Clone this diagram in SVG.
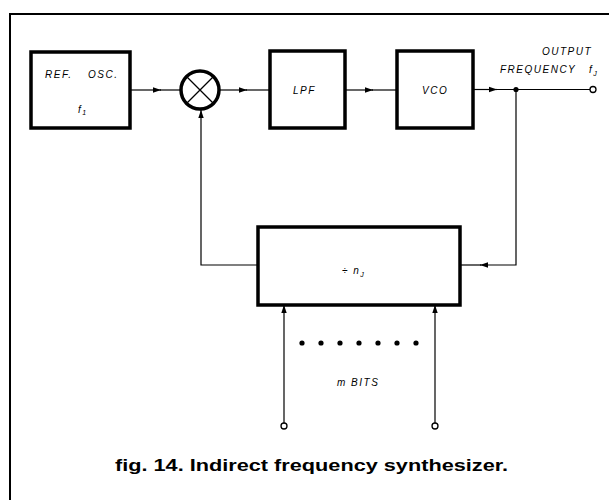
<svg xmlns="http://www.w3.org/2000/svg" width="609" height="500" viewBox="0 0 609 500">
<style>
.box{fill:#fff;stroke:#000;stroke-width:3.5}
.ln{fill:none;stroke:#000;stroke-width:1.2}
.lbl{font-family:"Liberation Sans",Arial,sans-serif;font-style:italic;font-size:10px;letter-spacing:1.5px;fill:#000}
.cap{font-family:"Liberation Sans",Arial,sans-serif;font-weight:bold;font-size:17px;fill:#000}
.term{fill:#fff;stroke:#000;stroke-width:1.3}
</style>
<defs>
<marker id="ah" markerWidth="9" markerHeight="7" refX="8" refY="3.5" orient="auto" markerUnits="userSpaceOnUse">
<path d="M0,0.8 L8,3.5 L0,6.2 Z" fill="#000"/>
</marker>
</defs>
<g id="frame">
<path d="M10 500 L10 14 L609 14" fill="none" stroke="#000" stroke-width="2"/>
</g>
<g id="refosc">
<rect class="box" x="31" y="52" width="99" height="76"/>
<text class="lbl" x="45" y="78">REF.</text>
<text class="lbl" x="88" y="78">OSC.</text>
<text class="lbl" x="78" y="113">f<tspan font-size="7" dy="2">1</tspan></text>
</g>
<g id="mixer">
<circle cx="200" cy="90" r="19" fill="#fff" stroke="#000" stroke-width="3.5"/>
<path d="M186.5 76.5 L213.5 103.5 M213.5 76.5 L186.5 103.5" stroke="#000" stroke-width="1.3"/>
</g>
<g id="lpf">
<rect class="box" x="270" y="51" width="75" height="77"/>
<text class="lbl" x="293" y="94">LPF</text>
</g>
<g id="vco">
<rect class="box" x="397" y="51" width="76" height="77"/>
<text class="lbl" x="422" y="94">VCO</text>
</g>
<g id="divider">
<rect class="box" x="258" y="227" width="202" height="78"/>
<text class="lbl" x="342" y="274" font-size="11" letter-spacing="0">÷ n<tspan font-size="7" dy="3">J</tspan></text>
</g>
<g id="output">
<circle class="term" cx="593" cy="89.5" r="3"/>
<text class="lbl" x="542" y="55">OUTPUT</text>
<text class="lbl" x="500" y="73">FREQUENCY</text>
<text class="lbl" x="589" y="73">f<tspan font-size="7" dy="3">J</tspan></text>
</g>
<g id="bits">
<circle class="term" cx="284" cy="426" r="3"/>
<circle class="term" cx="435" cy="426" r="3"/>
<g fill="#000">
<circle cx="302" cy="343" r="2.6"/>
<circle cx="321" cy="343" r="2.6"/>
<circle cx="340" cy="343" r="2.6"/>
<circle cx="359" cy="343" r="2.6"/>
<circle cx="378" cy="343" r="2.6"/>
<circle cx="397" cy="343" r="2.6"/>
<circle cx="416" cy="343" r="2.6"/>
</g>
<text class="lbl" x="337" y="386">m BITS</text>
</g>
<g id="connectors">
<path class="ln" d="M130 90 L161 90" marker-end="url(#ah)"/>
<path class="ln" d="M160 90 L181 90"/>
<path class="ln" d="M219 90 L247 90" marker-end="url(#ah)"/>
<path class="ln" d="M246 90 L270 90"/>
<path class="ln" d="M345 90 L373 90" marker-end="url(#ah)"/>
<path class="ln" d="M372 90 L397 90"/>
<path class="ln" d="M473 89.5 L497 89.5" marker-end="url(#ah)"/>
<path class="ln" d="M496 89.5 L590 89.5"/>
<circle cx="516" cy="89.5" r="2.6" fill="#000"/>
<path class="ln" d="M516 89.5 L516 265 L480 265" marker-end="url(#ah)"/>
<path class="ln" d="M481 265 L460 265"/>
<path class="ln" d="M258 265 L201 265 L201 110" marker-end="url(#ah)"/>
<path class="ln" d="M284 423 L284 305" marker-end="url(#ah)"/>
<path class="ln" d="M435 423 L435 305" marker-end="url(#ah)"/>
</g>
<g id="caption">
<text class="cap" x="115" y="471" textLength="393" lengthAdjust="spacingAndGlyphs">fig. 14. Indirect frequency synthesizer.</text>
</g>
</svg>
